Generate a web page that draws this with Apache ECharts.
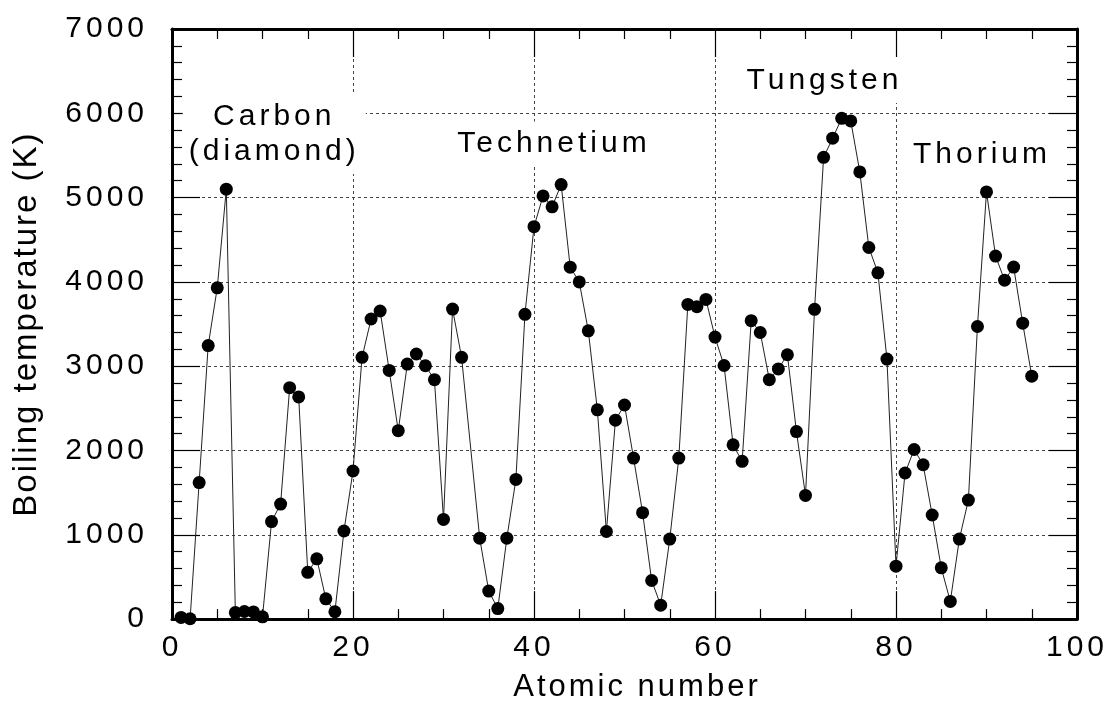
<!DOCTYPE html>
<html>
<head>
<meta charset="utf-8">
<style>
  html, body { margin: 0; padding: 0; background: #fff; }
  #chart { width: 1117px; height: 709px; }
</style>
<script>
  // wide tracking like the reference typography (tracking depends on font size)
  (function () {
    var proto = CanvasRenderingContext2D.prototype;
    var desc = Object.getOwnPropertyDescriptor(proto, 'font');
    if (desc && desc.set && ('letterSpacing' in proto)) {
      Object.defineProperty(proto, 'font', {
        configurable: true,
        get: function () { return desc.get.call(this); },
        set: function (v) {
          desc.set.call(this, v);
          var m = /(\d+(?:\.\d+)?)px/.exec(v || '');
          var s = m ? parseFloat(m[1]) : 12;
          this.letterSpacing = s >= 33 ? '2px' : (s >= 31 ? '3px' : (s >= 20 ? '4px' : '0px'));
        }
      });
    }
  })();
</script>
<script src="https://cdn.jsdelivr.net/npm/echarts@6/dist/echarts.min.js"></script>
</head>
<body>
<div id="chart"></div>
<script>
// Atomic numbers (33 has no point in the reference)
const atomicNumbers = [
  1, 2, 3, 4, 5, 6, 7, 8, 9, 10,
  11, 12, 13, 14, 15, 16, 17, 18, 19, 20,
  21, 22, 23, 24, 25, 26, 27, 28, 29, 30,
  31, 32, 34, 35, 36, 37, 38, 39, 40,
  41, 42, 43, 44, 45, 46, 47, 48, 49, 50,
  51, 52, 53, 54, 55, 56, 57, 58, 59, 60,
  61, 62, 63, 64, 65, 66, 67, 68, 69, 70,
  71, 72, 73, 74, 75, 76, 77, 78, 79, 80,
  81, 82, 83, 84, 85, 86, 87, 88, 89, 90,
  91, 92, 93, 94, 95
];
// Boiling temperatures (K)
const boilingK = [
  20, 4, 1620, 3245, 3930, 5100, 77, 90, 85, 27,
  1157, 1365, 2745, 2635, 555, 715, 240, 87, 1045, 1757,
  3105, 3560, 3655, 2950, 2235, 3025, 3145, 3005, 2840, 1182,
  3678, 3105, 960, 332, 125, 960, 1657, 3615, 4655,
  5020, 4890, 5155, 4175, 4000, 3420, 2483, 1039, 2360, 2540,
  1910, 1263, 458, 165, 949, 1910, 3733, 3706, 3792, 3345,
  3008, 2067, 1871, 3540, 3400, 2840, 2968, 3136, 2224, 1467,
  3675, 5478, 5705, 5940, 5910, 5305, 4408, 4108, 3084, 628,
  1733, 2012, 1831, 1235, 608, 210, 949, 1412, 3471, 5067,
  4306, 4020, 4176, 3510, 2882
];
// Annotations (data coordinates)
const annotationTexts = ['Carbon\n(diamond)', 'Technetium', 'Tungsten', 'Thorium'];
const annotationX = [11.3, 42.2, 72.1, 89.5];
const annotationY = [5755, 5635, 6390, 5506];

// Axis settings
const xMin = 0, xMax = 100, xStep = 20;
const yMin = 0, yMax = 7000, yStep = 1000;
const xTitle = 'Atomic number';
const yTitle = 'Boiling temperature (K)';

const FONT = 'Liberation Sans';
const points = atomicNumbers.map((n, i) => [n, boilingK[i]]);

const frameLine = { show: true, onZero: false, lineStyle: { color: '#000', width: 3 } };
const majorTick = { show: true, inside: true, length: 28, lineStyle: { color: '#000', width: 1.2 } };
const minorTickX = { show: true, splitNumber: 4, length: 10, lineStyle: { color: '#000', width: 1.2 } };
const minorTickY = { show: true, splitNumber: 5, length: 10, lineStyle: { color: '#000', width: 1.2 } };
const gridDash = { show: true, lineStyle: { color: '#444', width: 1, type: [3, 3] } };

const chart = echarts.init(document.getElementById('chart'), null, { renderer: 'canvas' });
chart.setOption({
  animation: false,
  backgroundColor: '#fff',
  textStyle: { fontFamily: FONT, color: '#000' },
  grid: { left: 172, right: 40, top: 29, bottom: 84, containLabel: false },
  xAxis: [
    {
      type: 'value', position: 'bottom', min: xMin, max: xMax, interval: xStep,
      axisLine: frameLine, axisTick: majorTick, minorTick: minorTickX,
      splitLine: gridDash,
      axisLabel: { show: true, margin: 12, fontSize: 30, color: '#000', fontFamily: FONT,
                   formatter: v => String(v) },
      name: xTitle, nameLocation: 'middle', nameGap: 43,
      nameTextStyle: { fontSize: 31, color: '#000', fontFamily: FONT, padding: [0, 0, 0, 25] }
    },
    {
      type: 'value', position: 'top', min: xMin, max: xMax, interval: xStep,
      axisLine: frameLine, axisTick: majorTick, minorTick: minorTickX,
      splitLine: { show: false }, axisLabel: { show: false }
    }
  ],
  yAxis: [
    {
      type: 'value', position: 'left', min: yMin, max: yMax, interval: yStep,
      axisLine: frameLine, axisTick: majorTick, minorTick: minorTickY,
      splitLine: gridDash,
      axisLabel: { show: true, margin: 24, fontSize: 30, color: '#000', fontFamily: FONT,
                   formatter: v => String(v) },
      name: yTitle, nameLocation: 'middle', nameGap: 128,
      nameTextStyle: { fontSize: 33, color: '#000', fontFamily: FONT }
    },
    {
      type: 'value', position: 'right', min: yMin, max: yMax, interval: yStep,
      axisLine: frameLine, axisTick: majorTick, minorTick: minorTickY,
      splitLine: { show: false }, axisLabel: { show: false }
    }
  ],
  series: [
    {
      type: 'line',
      xAxisIndex: 0, yAxisIndex: 0,
      data: points,
      symbol: 'circle',
      symbolSize: 13,
      itemStyle: { color: '#000' },
      lineStyle: { color: '#222', width: 1 },
      markPoint: {
        symbol: 'rect',
        symbolSize: 0,
        silent: true,
        label: {
          show: true, position: 'inside', color: '#000', fontSize: 30, lineHeight: 35,
          fontFamily: FONT, backgroundColor: '#fff', padding: [5, 6, 5, 6], align: 'center'
        },
        data: annotationTexts.map((t, i) => ({
          coord: [annotationX[i], annotationY[i]],
          value: t,
          label: { formatter: t }
        }))
      }
    }
  ]
});
</script>
</body>
</html>
